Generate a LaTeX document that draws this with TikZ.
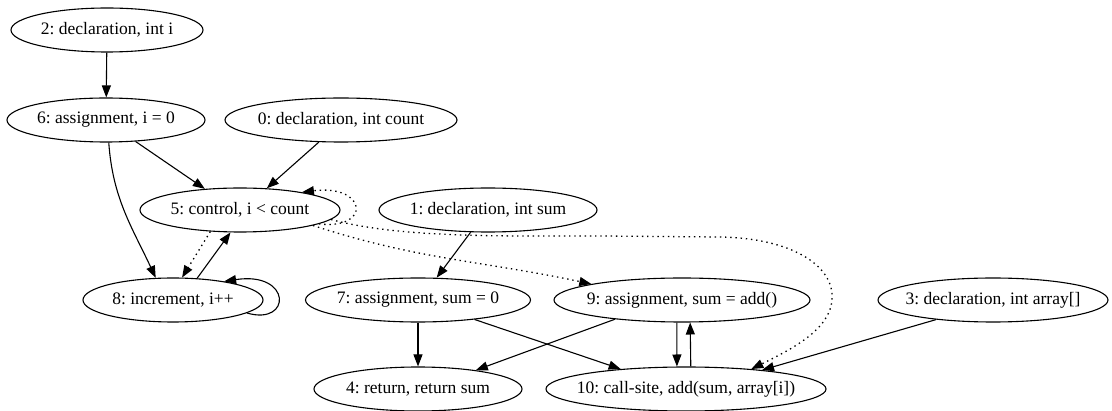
\documentclass[tikz,border=0pt]{standalone}
\usepackage{fontspec}
\setmainfont{Liberation Serif}
\usetikzlibrary{shapes.geometric,arrows.meta}
\frenchspacing
\begin{document}
\begin{tikzpicture}[x=1pt,y=-1pt,
  font=\fontsize{17.5}{21}\selectfont,
  gv/.style={draw, ellipse, line width=1.1pt, inner sep=0pt, minimum height=44pt},
  arr/.style={-{Triangle[length=12pt,width=9pt]}, line width=1.1pt},
  dot/.style={arr, line width=1.3pt, dash pattern=on 1.4pt off 3.8pt}]
\useasboundingbox (0,0) rectangle (1112,411);
\node[gv, minimum width=192pt, label={center:{2: declaration, int i}}] (n2) at (107,30) {};
\node[gv, minimum width=198pt, label={center:{6: assignment, i = 0}}] (n6) at (106,120) {};
\node[gv, minimum width=232pt, label={center:{0: declaration, int count}}] (n0) at (341,120) {};
\node[gv, minimum width=200pt, label={center:{5: control, i < count}}] (n5) at (240,210) {};
\node[gv, minimum width=218pt, label={center:{1: declaration, int sum}}] (n1) at (488,210) {};
\node[gv, minimum width=180pt, label={center:{8: increment, i++}}] (n8) at (173,300) {};
\node[gv, minimum width=225pt, label={center:{7: assignment, sum = 0}}] (n7) at (418,300) {};
\node[gv, minimum width=256pt, label={center:{9: assignment, sum = add()}}] (n9) at (682,300) {};
\node[gv, minimum width=230pt, label={center:{3: declaration, int array[]}}] (n3) at (993,300) {};
\node[gv, minimum width=208pt, label={center:{4: return, return sum}}] (n4) at (418,389) {};
\node[gv, minimum width=280pt, label={center:{10: call-site, add(sum, array[i])}}] (n10) at (686,389) {};
% solid edges
\draw[arr] (n2) -- (n6);
\draw[arr] (n6.-36) -- (n5.149);
\draw[arr] (n0.-135) -- (n5.39);
\draw[arr] (n6.-83) to[out=-86,in=115] (n8.128);
\draw[arr] (n8.42.5) -- (n5.-113.5);
\draw[arr] (n8.-10) .. controls (292,326) and (292,271) .. (n8.20);
\draw[arr] (n1.-128) -- (n7.50);
\draw[arr] (n7.-90) -- (n4.90);
\draw[arr] (n7.-19) -- (n10.163.5);
\draw[arr] (n9.-164.5) -- (n4.18);
\draw[arr] (n9.-103) -- (n10.112);
\draw[arr] (n10.78) -- (n9.-70);
\draw[arr] (n3.-161) -- (n10.14);
% dotted edges
\draw[dot] (n5.-144) -- (n8.68);
\draw[dot] (n5.-10) .. controls (372,230) and (367,184) .. (n5.16);
\draw[dot] (n5.-12) to[out=-18,in=168] (n9.170);
\draw[dot] (n5.-6) .. controls (400,238) and (500,236) .. (600,236) -- (720,237) .. controls (790,238) and (835,265) .. (832,300) .. controls (830,330) and (790,350) .. (n10.17.5);
\end{tikzpicture}
\end{document}
